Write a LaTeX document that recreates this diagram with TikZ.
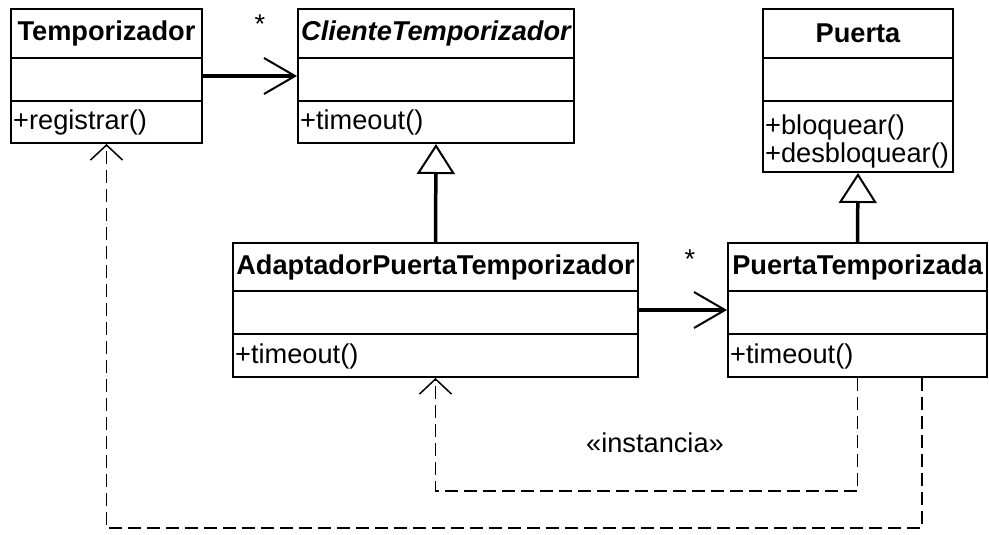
\documentclass[tikz,border=0pt]{standalone}
\usepackage{fontspec}
\setmainfont{Liberation Sans}
\usetikzlibrary{arrows.meta,calc}
\begin{document}
\begin{tikzpicture}[x=1pt,y=-1pt,
  every node/.style={font=\fontsize{27.2}{30}\selectfont},
  box/.style={draw, line width=2pt, fill=white, inner sep=0pt},
  divider/.style={line width=2pt},
  title/.style={inner sep=0pt, font=\fontsize{27.2}{30}\selectfont\bfseries},
  meth/.style={inner sep=0pt, anchor=west},
  assoc/.style={line width=3.5pt, -{Straight Barb[length=31pt, width=36pt, line width=2pt]}},
  gen/.style={line width=3.5pt, -{Triangle[open, fill=white, length=30pt, width=38pt, line width=2pt]}},
  dep/.style={line width=1.5pt, dash pattern=on 13pt off 6pt, -{Straight Barb[length=15pt, width=32pt, line width=1.5pt]}},
  mult/.style={inner sep=0pt}
]
\useasboundingbox[fill=white] (0,0) rectangle (989,535);

% Temporizador
\node[box, minimum width=191pt, minimum height=134pt] (temp) at (106.5,76) {};
\draw[divider] (temp.west |- 0,58) -- (temp.east |- 0,58);
\draw[divider] (temp.west |- 0,101) -- (temp.east |- 0,101);
\node[title] (tempT) at (106.5,33.5) {Temporizador};
\node[meth] (tempM) at (13,122) {+registrar()};

% ClienteTemporizador
\node[box, minimum width=276pt, minimum height=134pt] (cli) at (436,76) {};
\draw[divider] (cli.west |- 0,58) -- (cli.east |- 0,58);
\draw[divider] (cli.west |- 0,101) -- (cli.east |- 0,101);
\node[title, font=\fontsize{27.2}{30}\selectfont\bfseries\itshape] (cliT) at (436,33.5) {ClienteTemporizador};
\node[meth] (cliM) at (300,122) {+timeout()};

% Puerta
\node[box, minimum width=190pt, minimum height=163pt] (pu) at (858,90.5) {};
\draw[divider] (pu.west |- 0,58) -- (pu.east |- 0,58);
\draw[divider] (pu.west |- 0,101) -- (pu.east |- 0,101);
\node[title] (puT) at (858,33.5) {Puerta};
\node[meth] (puM1) at (765,127) {+bloquear()};
\node[meth] (puM2) at (765,155) {+desbloquear()};

% AdaptadorPuertaTemporizador
\node[box, minimum width=405pt, minimum height=134pt] (ad) at (435.5,310) {};
\draw[divider] (ad.west |- 0,291) -- (ad.east |- 0,291);
\draw[divider] (ad.west |- 0,334) -- (ad.east |- 0,334);
\node[title] (adT) at (435.5,267.5) {AdaptadorPuertaTemporizador};
\node[meth] (adM) at (235,356) {+timeout()};

% PuertaTemporizada
\node[box, minimum width=259pt, minimum height=134pt] (pt) at (857.5,310) {};
\draw[divider] (pt.west |- 0,291) -- (pt.east |- 0,291);
\draw[divider] (pt.west |- 0,334) -- (pt.east |- 0,334);
\node[title] (ptT) at (857.5,267.5) {PuertaTemporizada};
\node[meth] (ptM) at (730,356) {+timeout()};

% associations
\draw[assoc] (temp.east) -- (cli.west);
\node[mult] (m1) at (260,24) {*};
\draw[assoc] (ad.east) -- (pt.west);
\node[mult] (m2) at (690,259) {*};

% generalizations
\draw[gen] (ad.north) -- (cli.south);
\draw[gen] (pt.north) -- (pu.south);

% dependencies
\draw[dep] (pt.south) -- ++(0,113) -| (ad.south);
\node (inst) at (655,443) {«instancia»};
\draw[dep] ([xshift=64.5pt]pt.south) -- ++(0,150) -| (temp.south);
\end{tikzpicture}
\end{document}
